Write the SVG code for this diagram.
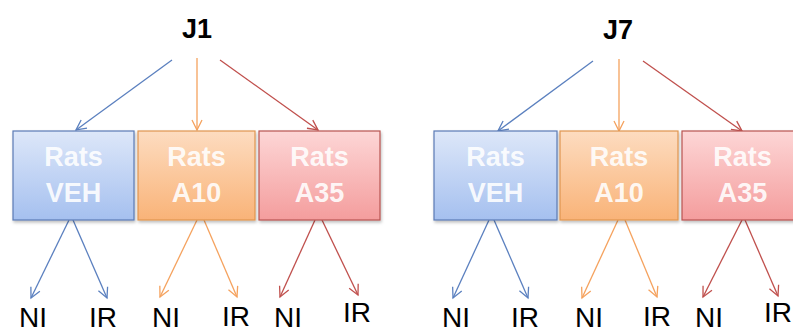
<svg xmlns="http://www.w3.org/2000/svg" width="793" height="333" viewBox="0 0 793 333">
<style>
.title{font-family:"Liberation Sans",Arial,sans-serif;font-weight:bold;font-size:27px;fill:#000;text-anchor:middle}
.box text{font-family:"Liberation Sans",Arial,sans-serif;font-weight:bold;font-size:27px;fill:#fff;fill-opacity:0.9;text-anchor:middle}
.leaf{font-family:"Liberation Sans",Arial,sans-serif;font-size:28px;fill:#000;text-anchor:middle}
.cb{stroke:#5b80bf;stroke-width:1.3;fill:none}
.co{stroke:#f5a25e;stroke-width:1.3;fill:none}
.cr{stroke:#c0504d;stroke-width:1.3;fill:none}
</style>
<defs>
<linearGradient id="gb" x1="0" y1="0" x2="0" y2="1"><stop offset="0" stop-color="#dde7f9"/><stop offset="1" stop-color="#a5c0ef"/></linearGradient>
<linearGradient id="go" x1="0" y1="0" x2="0" y2="1"><stop offset="0" stop-color="#fddcc0"/><stop offset="1" stop-color="#f9b378"/></linearGradient>
<linearGradient id="gr" x1="0" y1="0" x2="0" y2="1"><stop offset="0" stop-color="#fdd6d6"/><stop offset="1" stop-color="#f49d9d"/></linearGradient>
<filter id="sh" x="-10%" y="-10%" width="125%" height="130%"><feDropShadow dx="1" dy="2" stdDeviation="1.5" flood-color="#000" flood-opacity="0.25"/></filter>
<marker id="mb" markerWidth="14" markerHeight="14" refX="11" refY="6" orient="auto" markerUnits="userSpaceOnUse" viewBox="0 0 14 12"><polyline points="1,1 11,6 1,11" fill="none" stroke="#5b80bf" stroke-width="1.3"/></marker>
<marker id="mo" markerWidth="14" markerHeight="14" refX="11" refY="6" orient="auto" markerUnits="userSpaceOnUse" viewBox="0 0 14 12"><polyline points="1,1 11,6 1,11" fill="none" stroke="#f5a25e" stroke-width="1.3"/></marker>
<marker id="mr" markerWidth="14" markerHeight="14" refX="11" refY="6" orient="auto" markerUnits="userSpaceOnUse" viewBox="0 0 14 12"><polyline points="1,1 11,6 1,11" fill="none" stroke="#c0504d" stroke-width="1.3"/></marker>
</defs>
<rect width="793" height="333" fill="#fff"/>
<g id="connectors">
<line class="cb" x1="172" y1="60" x2="76" y2="130" marker-end="url(#mb)"/>
<line class="co" x1="197" y1="58" x2="197" y2="130" marker-end="url(#mo)"/>
<line class="cr" x1="220" y1="60" x2="318" y2="130" marker-end="url(#mr)"/>
<line class="cb" x1="69" y1="220" x2="31" y2="298" marker-end="url(#mb)"/>
<line class="cb" x1="73" y1="220" x2="107" y2="298" marker-end="url(#mb)"/>
<line class="co" x1="197" y1="220" x2="160" y2="297" marker-end="url(#mo)"/>
<line class="co" x1="204" y1="220" x2="237" y2="297" marker-end="url(#mo)"/>
<line class="cr" x1="315" y1="220" x2="280" y2="297" marker-end="url(#mr)"/>
<line class="cr" x1="322" y1="220" x2="358" y2="295" marker-end="url(#mr)"/>
<line class="cb" x1="593" y1="61" x2="498" y2="131" marker-end="url(#mb)"/>
<line class="co" x1="619" y1="59" x2="619" y2="131" marker-end="url(#mo)"/>
<line class="cr" x1="643" y1="61" x2="742" y2="131" marker-end="url(#mr)"/>
<line class="cb" x1="489" y1="220" x2="453" y2="298" marker-end="url(#mb)"/>
<line class="cb" x1="494" y1="220" x2="528" y2="298" marker-end="url(#mb)"/>
<line class="co" x1="618" y1="220" x2="582" y2="298" marker-end="url(#mo)"/>
<line class="co" x1="625" y1="220" x2="657" y2="297" marker-end="url(#mo)"/>
<line class="cr" x1="742" y1="220" x2="703" y2="297" marker-end="url(#mr)"/>
<line class="cr" x1="745" y1="220" x2="778" y2="296" marker-end="url(#mr)"/>
</g>
<g id="J1"><text class="title" x="197" y="38">J1</text></g>
<g id="J7"><text class="title" x="618" y="39">J7</text></g>
<g id="box-J1-VEH" class="box"><rect x="13" y="131" width="121" height="89" fill="url(#gb)" stroke="#5a7bb5" stroke-width="1.2" filter="url(#sh)"/><text x="73.5" y="166">Rats</text><text x="73.5" y="202">VEH</text></g>
<g id="box-J1-A10" class="box"><rect x="138" y="131" width="117" height="89" fill="url(#go)" stroke="#e0954f" stroke-width="1.2" filter="url(#sh)"/><text x="196.5" y="166">Rats</text><text x="196.5" y="202">A10</text></g>
<g id="box-J1-A35" class="box"><rect x="259" y="131" width="121" height="89" fill="url(#gr)" stroke="#b85450" stroke-width="1.2" filter="url(#sh)"/><text x="319.5" y="166">Rats</text><text x="319.5" y="202">A35</text></g>
<g id="box-J7-VEH" class="box"><rect x="434" y="131" width="123" height="89" fill="url(#gb)" stroke="#5a7bb5" stroke-width="1.2" filter="url(#sh)"/><text x="495.5" y="166">Rats</text><text x="495.5" y="202">VEH</text></g>
<g id="box-J7-A10" class="box"><rect x="560" y="131" width="118" height="89" fill="url(#go)" stroke="#e0954f" stroke-width="1.2" filter="url(#sh)"/><text x="619" y="166">Rats</text><text x="619" y="202">A10</text></g>
<g id="box-J7-A35" class="box"><rect x="682" y="131" width="121" height="89" fill="url(#gr)" stroke="#b85450" stroke-width="1.2" filter="url(#sh)"/><text x="742.5" y="166">Rats</text><text x="742.5" y="202">A35</text></g>
<g id="leaf-J1-VEH-NI"><text class="leaf" x="33" y="327">NI</text></g>
<g id="leaf-J1-VEH-IR"><text class="leaf" x="103" y="327">IR</text></g>
<g id="leaf-J1-A10-NI"><text class="leaf" x="166" y="327">NI</text></g>
<g id="leaf-J1-A10-IR"><text class="leaf" x="236" y="326">IR</text></g>
<g id="leaf-J1-A35-NI"><text class="leaf" x="288" y="327">NI</text></g>
<g id="leaf-J1-A35-IR"><text class="leaf" x="357" y="322">IR</text></g>
<g id="leaf-J7-VEH-NI"><text class="leaf" x="456" y="327">NI</text></g>
<g id="leaf-J7-VEH-IR"><text class="leaf" x="525" y="327">IR</text></g>
<g id="leaf-J7-A10-NI"><text class="leaf" x="589" y="327">NI</text></g>
<g id="leaf-J7-A10-IR"><text class="leaf" x="657" y="326">IR</text></g>
<g id="leaf-J7-A35-NI"><text class="leaf" x="709" y="327">NI</text></g>
<g id="leaf-J7-A35-IR"><text class="leaf" x="778" y="322">IR</text></g>
</svg>
